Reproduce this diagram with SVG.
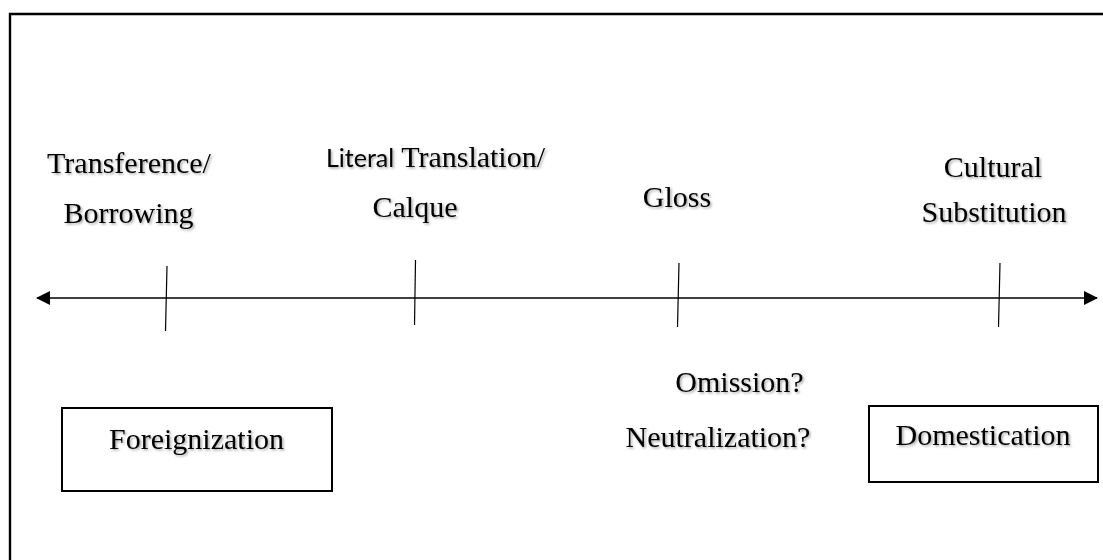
<svg xmlns="http://www.w3.org/2000/svg" width="1103" height="560" viewBox="0 0 1103 560">
  <style>
    .t { font-family: "Liberation Serif", "Times New Roman", serif; font-size: 30px; fill: #000; filter: url(#sh); }
    .s { font-family: Lato, "Liberation Sans", sans-serif; font-size: 25px; }
    .box { fill: #fff; stroke: #000; stroke-width: 2; }
    .tick { stroke: #000; stroke-width: 1.2; }
    .axis { stroke: #000; stroke-width: 1.6; fill: none; }
  </style>
  <defs>
    <filter id="sh" x="-10%" y="-20%" width="120%" height="150%">
      <feDropShadow dx="1.5" dy="1.5" stdDeviation="1" flood-color="#000" flood-opacity="0.35"/>
    </filter>
    <marker id="ah" viewBox="0 0 14 14" refX="13" refY="7" markerWidth="14" markerHeight="14" markerUnits="userSpaceOnUse" orient="auto-start-reverse">
      <path d="M0,0 L14,7 L0,14 Z" fill="#000"/>
    </marker>
  </defs>
  <rect width="1103" height="560" fill="#fff"/>
  <g id="frame">
    <path d="M10,560 L10,14 L1103,14" fill="none" stroke="#000" stroke-width="2.4"/>
  </g>
  <g id="connectors">
    <line class="axis" x1="37" y1="298" x2="1097" y2="298" marker-start="url(#ah)" marker-end="url(#ah)"/>
    <line class="tick" x1="167" y1="266" x2="165.5" y2="331"/>
    <line class="tick" x1="415.5" y1="260" x2="414.5" y2="325"/>
    <line class="tick" x1="679" y1="263" x2="677.5" y2="327"/>
    <line class="tick" x1="1000" y1="263" x2="998.5" y2="327"/>
  </g>
  <g id="transference">
    <text class="t" x="129" y="173" text-anchor="middle">Transference/</text>
    <text class="t" x="128.5" y="223" text-anchor="middle">Borrowing</text>
  </g>
  <g id="literal">
    <text class="t" x="326" y="167"><tspan class="s">Literal</tspan> Translation/</text>
    <text class="t" x="415" y="217" text-anchor="middle">Calque</text>
  </g>
  <g id="gloss">
    <text class="t" x="677" y="207" text-anchor="middle">Gloss</text>
  </g>
  <g id="cultural">
    <text class="t" x="993" y="177" text-anchor="middle">Cultural</text>
    <text class="t" x="994" y="222" text-anchor="middle">Substitution</text>
  </g>
  <g id="omission">
    <text class="t" x="739.5" y="392" text-anchor="middle">Omission?</text>
    <text class="t" x="718" y="447" text-anchor="middle">Neutralization?</text>
  </g>
  <g id="foreignization">
    <rect class="box" x="62" y="408" width="270" height="83"/>
    <text class="t" x="196.5" y="449" text-anchor="middle">Foreignization</text>
  </g>
  <g id="domestication">
    <rect class="box" x="869" y="406" width="229" height="76"/>
    <text class="t" x="983" y="445" text-anchor="middle">Domestication</text>
  </g>
</svg>
